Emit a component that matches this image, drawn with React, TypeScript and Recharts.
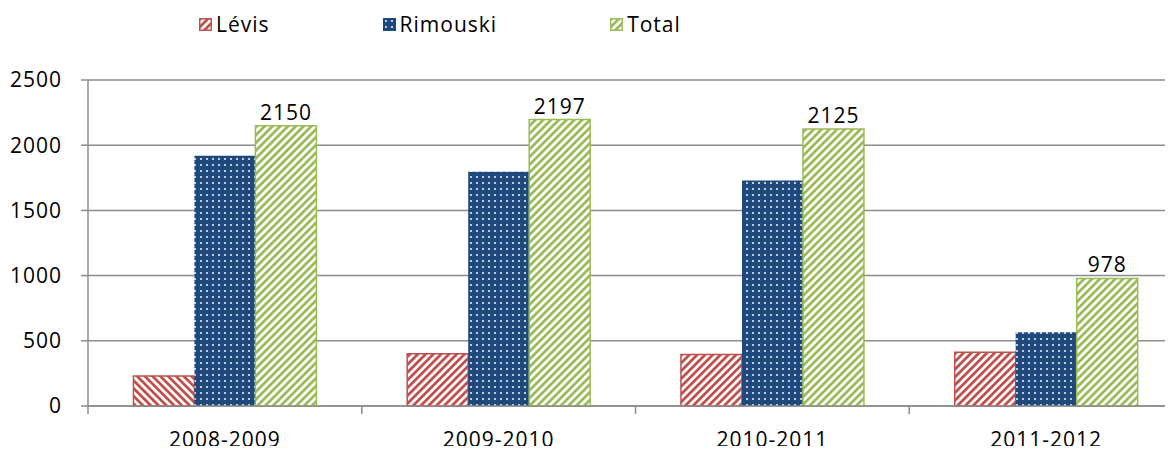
import { BarChart, Bar, XAxis, YAxis, CartesianGrid, Legend, LabelList, Cell } from "recharts";

const seasons = ["2008-2009", "2009-2010", "2010-2011", "2011-2012"];
const levis = [230, 400, 395, 413];
const rimouski = [1920, 1797, 1730, 565];
const total = [2150, 2197, 2125, 978];
const yTicks = [0, 500, 1000, 1500, 2000, 2500];

const data = seasons.map((season, i) => ({
  season,
  levis: levis[i],
  rimouski: rimouski[i],
  total: total[i],
}));

const COLORS = {
  red: "#c0504d",
  blue: "#1f497d",
  green: "#9bbb59",
  grid: "#8c8c8c",
  text: "#000000",
};

const FONT = "'Open Sans', sans-serif";
const CHART_W = 1200;
const CHART_H = 454;
// legend height (~29px) gets added on top of margin.top by recharts
const MARGIN = { top: 52, right: 17, left: 0, bottom: 8 };
const Y_AXIS_W = 88;
const CAT_W = (CHART_W - MARGIN.left - Y_AXIS_W - MARGIN.right) / seasons.length;
const PLOT_BOTTOM = 406;

const legendItems = [
  { key: "levis", label: "Lévis", fill: "url(#hatchRed)", stroke: COLORS.red },
  { key: "rimouski", label: "Rimouski", fill: "url(#dotsBlue)", stroke: COLORS.blue },
  { key: "total", label: "Total", fill: "url(#hatchGreen)", stroke: COLORS.green },
];

function PatternDefs() {
  return (
    <defs>
      <pattern id="hatchRed" width="5.5" height="5.5" patternUnits="userSpaceOnUse" patternTransform="rotate(45)">
        <rect width="5.5" height="5.5" fill="#ffffff" />
        <rect width="2.8" height="5.5" fill={COLORS.red} />
      </pattern>
      <pattern id="hatchRedBack" width="5.5" height="5.5" patternUnits="userSpaceOnUse" patternTransform="rotate(-45)">
        <rect width="5.5" height="5.5" fill="#ffffff" />
        <rect width="2.8" height="5.5" fill={COLORS.red} />
      </pattern>
      <pattern id="hatchGreen" width="5.5" height="5.5" patternUnits="userSpaceOnUse" patternTransform="rotate(45)">
        <rect width="5.5" height="5.5" fill="#ffffff" />
        <rect width="2.8" height="5.5" fill={COLORS.green} />
      </pattern>
      <pattern id="dotsBlue" width="6" height="6" patternUnits="userSpaceOnUse">
        <rect width="6" height="6" fill={COLORS.blue} />
        <circle cx="3" cy="3" r="1.1" fill="#e4eaf2" />
      </pattern>
    </defs>
  );
}

function LegendContent() {
  return (
    <div style={{ display: "flex", alignItems: "center", gap: 113, fontFamily: FONT, fontSize: 21, letterSpacing: 1, color: COLORS.text }}>
      {legendItems.map((item) => (
        <div key={item.key} style={{ display: "flex", alignItems: "center", gap: 4 }}>
          <svg width={13} height={13}>
            <rect x={0.75} y={0.75} width={11.5} height={11.5} fill={item.fill} stroke={item.stroke} strokeWidth={1.5} />
          </svg>
          <span>{item.label}</span>
        </div>
      ))}
    </div>
  );
}

function CategoryTick(props: any) {
  const { x, y, payload } = props;
  const left = x - CAT_W / 2;
  return (
    <g>
      <line x1={left} x2={left} y1={PLOT_BOTTOM} y2={PLOT_BOTTOM + 8} stroke={COLORS.grid} strokeWidth={1.5} />
      <text x={x} y={y} dy="0.71em" textAnchor="middle" fill={COLORS.text} fontFamily={FONT} fontSize={21} letterSpacing={1}>
        {payload.value}
      </text>
    </g>
  );
}

export default function App() {
  return (
    <div style={{ margin: -8, width: 1173, height: 454, overflow: "hidden", position: "relative", background: "#fff" }}>
      <BarChart width={CHART_W} height={CHART_H} data={data} margin={MARGIN} barCategoryGap="16.6%" barGap={0}>
        <PatternDefs />
        <CartesianGrid vertical={false} stroke={COLORS.grid} strokeWidth={1.5} />
        <XAxis
          dataKey="season"
          height={40}
          axisLine={{ stroke: COLORS.grid, strokeWidth: 1.5 }}
          tickLine={false}
          tickSize={8}
          tickMargin={18}
          tick={<CategoryTick />}
          interval={0}
        />
        <YAxis
          width={Y_AXIS_W}
          domain={[0, 2500]}
          ticks={yTicks}
          axisLine={{ stroke: COLORS.grid, strokeWidth: 1.5 }}
          tickLine={{ stroke: COLORS.grid, strokeWidth: 1.5 }}
          tickSize={7}
          tickMargin={19}
          tick={{ fill: COLORS.text, fontFamily: FONT, fontSize: 21, letterSpacing: 1 }}
        />
        <Legend verticalAlign="top" content={<LegendContent />} wrapperStyle={{ top: 10, left: 199, width: "auto" }} />
        <Bar dataKey="levis" fill="url(#hatchRed)" stroke={COLORS.red} strokeWidth={1.5} isAnimationActive={false}>
          {data.map((d, i) => (
            <Cell key={d.season} fill={i === 0 ? "url(#hatchRedBack)" : "url(#hatchRed)"} />
          ))}
        </Bar>
        <Bar dataKey="rimouski" fill="url(#dotsBlue)" isAnimationActive={false} />
        <Bar dataKey="total" fill="url(#hatchGreen)" stroke={COLORS.green} strokeWidth={1.5} isAnimationActive={false}>
          <LabelList dataKey="total" position="top" offset={6} fill={COLORS.text} fontFamily={FONT} fontSize={21} letterSpacing={1} />
        </Bar>
      </BarChart>
    </div>
  );
}
